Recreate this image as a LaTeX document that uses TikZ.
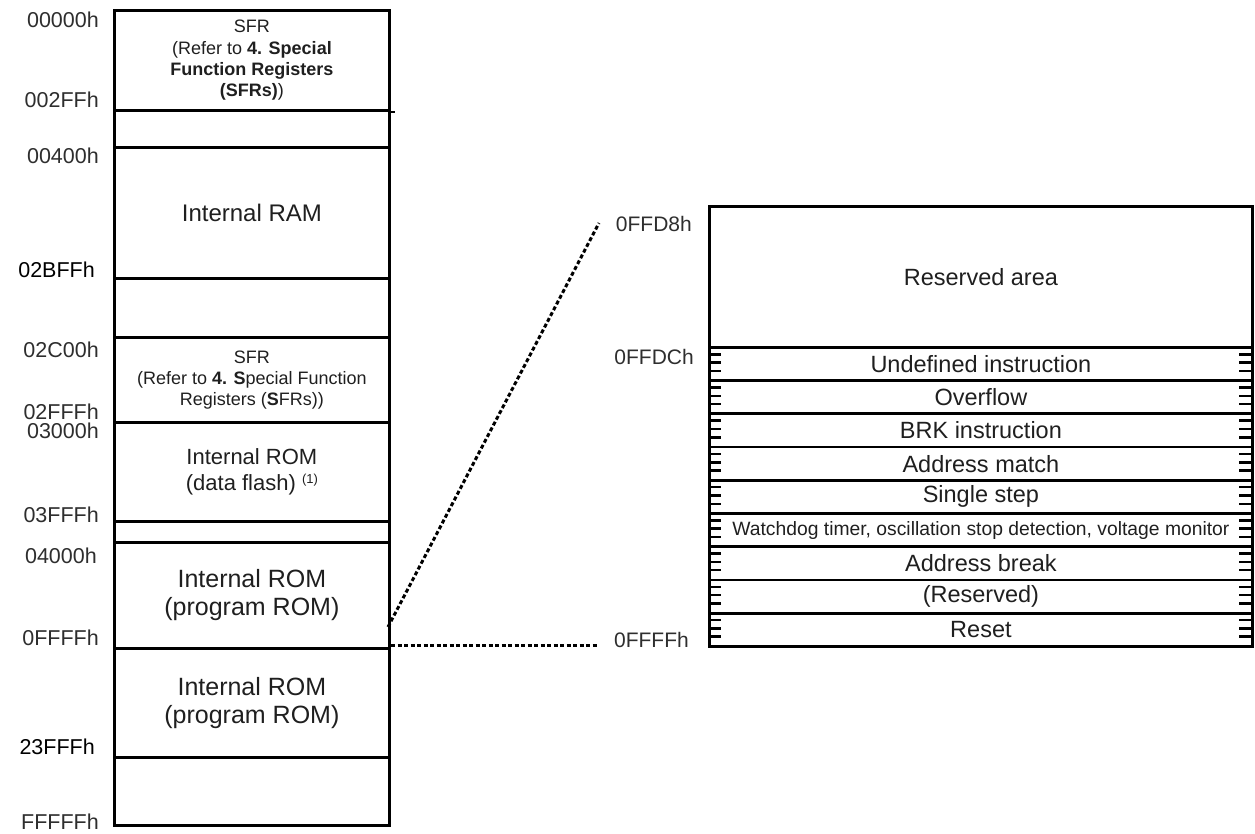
\documentclass[tikz,border=0pt]{standalone}
\usepackage{fontspec}
\setmainfont{Liberation Sans}
\begin{document}
\begin{tikzpicture}[x=1pt,y=-1pt,
  cell/.style={draw, line width=2.8pt, inner sep=0pt, anchor=north west, minimum width=275pt, align=center, text=black!88},
  vrow/.style={draw, line width=2.8pt, inner sep=0pt, anchor=north west, minimum width=543pt, minimum height=33.22pt, text=black!88, font=\fontsize{23.5}{26}\selectfont},
  lbl/.style={anchor=base east, inner sep=0pt, font=\fontsize{21.5}{24}\selectfont, text=black!82},
  lblk/.style={lbl, text=black},
  sfrtxt/.style={font=\fontsize{18}{21.3}\selectfont},
  romtxt/.style={font=\fontsize{25}{28}\selectfont},
  tick/.style={line width=2.5pt},
  zoomline/.style={line width=3pt, dash pattern=on 4pt off 2.5pt}
]
\useasboundingbox (0,0) rectangle (1255,834);

% ---------- left memory map ----------
\node[cell, minimum height=100pt, sfrtxt] (c1) at (113,9)
  {SFR\\(Refer to \textbf{4. Special}\\\textbf{Function Registers}\\\textbf{(SFRs)})};
\node[cell, minimum height=37pt] (c2) at (113,109) {};
\node[cell, minimum height=131pt, font=\fontsize{24}{28}\selectfont] (c3) at (113,146) {Internal RAM};
\node[cell, minimum height=59pt] (c4) at (113,277) {};
\node[cell, minimum height=85pt, sfrtxt] (c5) at (113,336)
  {SFR\\(Refer to \textbf{4. S}pecial Function\\Registers (\textbf{S}FRs))};
\node[cell, minimum height=99pt, font=\fontsize{22}{26}\selectfont] (c6) at (113,421)
  {Internal ROM\\(data flash) {\fontsize{13}{14}\selectfont\raisebox{7pt}{(1)}}};
\node[cell, minimum height=21pt] (c7) at (113,520) {};
\node[cell, minimum height=106pt, romtxt] (c8) at (113,541) {Internal ROM\\(program ROM)};
\node[cell, minimum height=109pt, romtxt] (c9) at (113,647) {Internal ROM\\(program ROM)};
\node[cell, minimum height=68pt] (c10) at (113,756) {};
\draw[line width=2.4pt] (c1.south east) -- ++(4,0);

% left address labels
\node[lbl] (a1) at (99,28) {00000h};
\node[lbl] (a2) at (99,108) {002FFh};
\node[lbl] (a3) at (99,164) {00400h};
\node[lblk] (a4) at (95,277) {02BFFh};
\node[lbl] (a5) at (99,357) {02C00h};
\node[lbl] (a6) at (99,419) {02FFFh};
\node[lbl] (a7) at (99,438) {03000h};
\node[lbl] (a8) at (99,522) {03FFFh};
\node[lbl] (a9) at (97,563) {04000h};
\node[lbl] (a10) at (99,645) {0FFFFh};
\node[lblk] (a11) at (95,754) {23FFFh};
\node[lbl] (a12) at (99,829) {FFFFFh};

% ---------- right vector table ----------
\node[vrow, minimum height=141pt] (res) at (708,205) {Reserved area};
\foreach \t [count=\i] in {Undefined instruction, Overflow, BRK instruction, Address match, Single step,
  {\fontsize{19.3}{22}\selectfont Watchdog timer, oscillation stop detection, voltage monitor},
  Address break, (Reserved), Reset} {
  \node[vrow] (r\i) at (708,{346+(\i-1)*33.22}) {\t};
  \foreach \k in {1,2,3} {
    \draw[tick] (708,{346+(\i-1)*33.22+\k*8.305}) -- ++(13,0);
    \draw[tick] (1251,{346+(\i-1)*33.22+\k*8.305}) -- ++(-12,0);
  }
}

% right address labels
\node[lbl, font=\fontsize{21}{24}\selectfont] (b1) at (692,232) {0FFD8h};
\node[lbl, font=\fontsize{21}{24}\selectfont] (b2) at (694,364) {0FFDCh};
\node[lbl, font=\fontsize{21}{24}\selectfont] (b3) at (689,647) {0FFFFh};

% ---------- zoom connectors ----------
\coordinate (z1) at (388,627);
\coordinate (z2) at (599,223);
\coordinate (z3) at (391,645);
\coordinate (z4) at (598,645);
\draw[zoomline] (z1) -- (z2);
\draw[zoomline] (z3) -- (z4);
\end{tikzpicture}
\end{document}
